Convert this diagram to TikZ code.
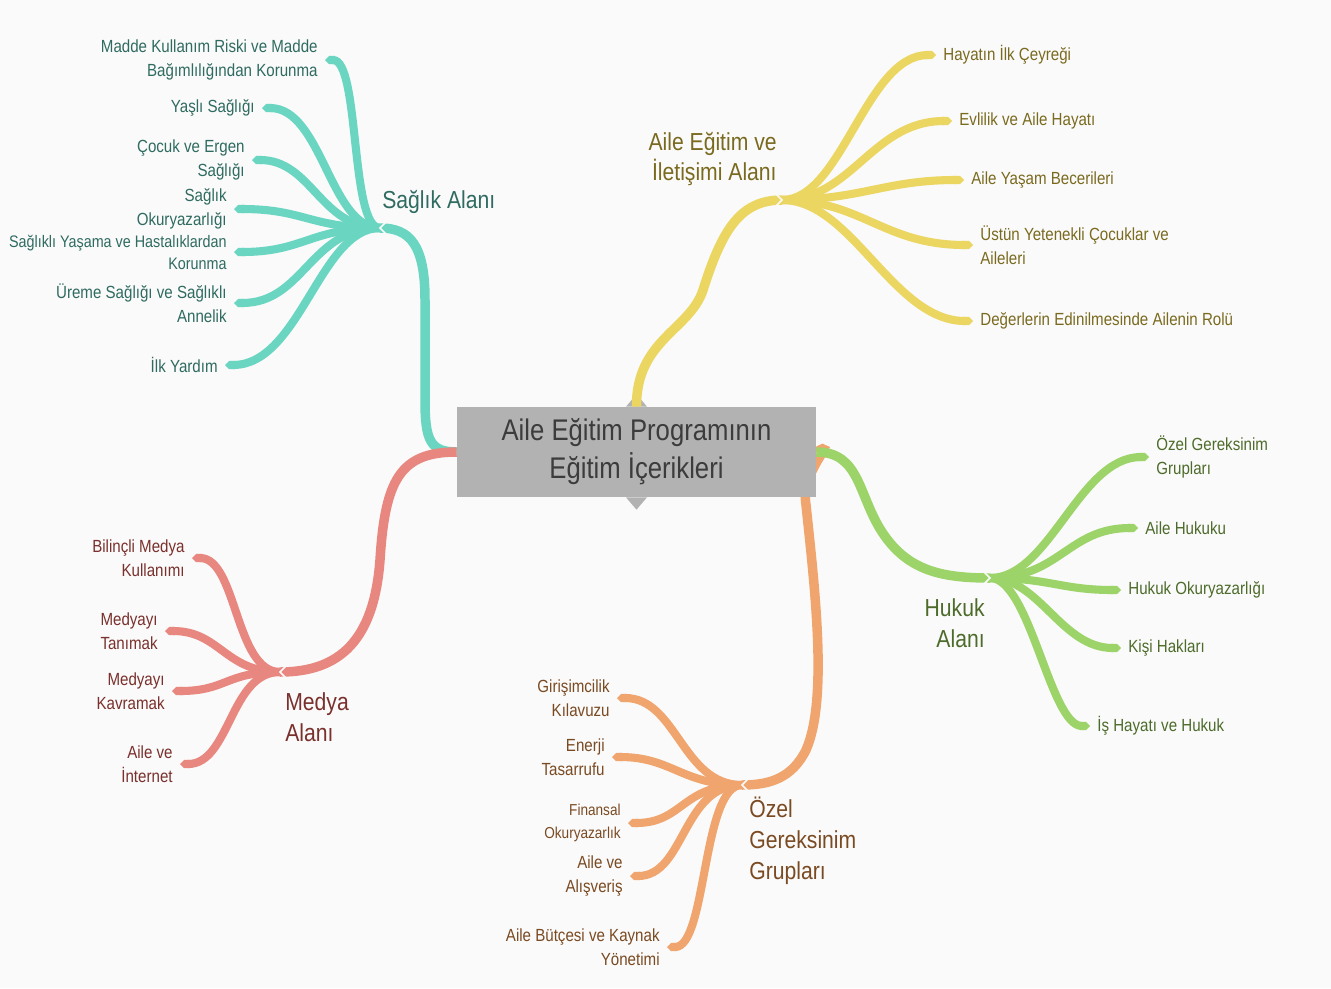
\documentclass[tikz,border=0pt]{standalone}
\usepackage{fontspec}
\setmainfont{Liberation Sans}[FakeStretch=0.86]
\usetikzlibrary{arrows.meta}

\definecolor{pagebg}{HTML}{FAFAFA}
\definecolor{boxgray}{HTML}{B2B2B2}
\definecolor{boxtext}{HTML}{3C3C3C}
\definecolor{tealline}{HTML}{6AD6C2}
\definecolor{tealtext}{HTML}{2F6B60}
\definecolor{yelline}{HTML}{EBD662}
\definecolor{yeltext}{HTML}{7A6A1F}
\definecolor{grnline}{HTML}{9DD46A}
\definecolor{grntext}{HTML}{4D6B2A}
\definecolor{orgline}{HTML}{F0A56E}
\definecolor{orgtext}{HTML}{7A4A22}
\definecolor{redline}{HTML}{E8877F}
\definecolor{redtext}{HTML}{7A302C}

\pgfdeclarelayer{back}
\pgfdeclarelayer{background}
\pgfsetlayers{back,background,main}

\tikzset{
	leafl/.style={anchor=east, align=right, inner xsep=4pt, inner ysep=1pt, font=\fontsize{10}{13.5}\selectfont},
	leafr/.style={leafl, anchor=west, align=left},
	area/.style={inner sep=0pt, font=\fontsize{14}{17.6}\selectfont},
	twig/.style={line width=4.6pt, -{Triangle Cap[]}},
	trunk/.style={line width=5.4pt},
	notch/.style={pagebg, line width=0.9pt}
}

\begin{document}
\begin{tikzpicture}[x=0.02cm, y=-0.02cm]
	
	\begin{pgfonlayer}{back}
		\fill[pagebg] (0,0) rectangle (1331,988);
	\end{pgfonlayer}
	\useasboundingbox (0,0) rectangle (1331,988);
	
	% central topic
	\node[fill=boxgray, minimum width=7.18cm, minimum height=1.8cm, inner sep=0pt, align=center,
		text=boxtext, font=\fontsize{17}{21.5}\selectfont] (center) at (636.5,452)
		{Aile Eğitim Programının\\Eğitim İçerikleri};
	\fill[boxgray] ([xshift=-6pt]center.north) -- ++(6pt,7pt) -- ++(6pt,-7pt) -- cycle;
	\fill[boxgray] ([xshift=-6pt]center.south) -- ++(6pt,-7pt) -- ++(6pt,7pt) -- cycle;
	
	% hubs
	\coordinate (saglik) at (380,228);
	\coordinate (aile) at (782,200);
	\coordinate (hukuk) at (990,578);
	\coordinate (ozel) at (742,785);
	\coordinate (medya) at (280,672);
	
	% main branches
	\draw[trunk, tealline] (center.west) .. controls (430,452) and (425,440) .. (425,400)
		-- (425,300) .. controls (425,245) and (410,228) .. (saglik);
	\draw[trunk, redline] (center.west) .. controls (400,452) and (385,480) .. (380,560)
		.. controls (374,640) and (340,672) .. (medya);
	\draw[trunk, yelline] (center.north) .. controls (636,340) and (690,330) .. (703,290)
		.. controls (722,230) and (740,200) .. (aile);
	\draw[trunk, grnline] (center.east) .. controls (860,452) and (858,495) .. (882,532)
		.. controls (907,570) and (940,578) .. (hukuk);
	\begin{pgfonlayer}{background}
		\draw[trunk, orgline] (center.east) .. controls (840,438) and (800,470) .. (806,505)
			.. controls (815,590) and (828,700) .. (806,750) .. controls (792,778) and (770,785) .. (ozel);
	\end{pgfonlayer}
	
	% branch titles
	\node[area, text=tealtext, anchor=west] (saglikLbl) at (382,202) {Sağlık Alanı};
	\node[area, text=yeltext, anchor=east, align=right] (aileLbl) at (777,159) {Aile Eğitim ve\\İletişimi Alanı};
	\node[area, text=grntext, anchor=east, align=right] (hukukLbl) at (985,623) {Hukuk\\Alanı};
	\node[area, text=orgtext, anchor=west, align=left] (ozelLbl) at (749,841) {Özel\\Gereksinim\\Grupları};
	\node[area, text=redtext, anchor=west, align=left] (medyaLbl) at (285,717) {Medya\\Alanı};
	
	% Sağlık Alanı
	\node[leafl, text=tealtext] (madde) at (325,60) {Madde Kullanım Riski ve Madde\\Bağımlılığından Korunma};
	\node[leafl, text=tealtext] (yasli) at (262,108) {Yaşlı Sağlığı};
	\node[leafl, text=tealtext] (cocuk) at (252,160) {Çocuk ve Ergen\\Sağlığı};
	\node[leafl, text=tealtext] (sokur) at (234,209) {Sağlık\\Okuryazarlığı};
	\node[leafl, text=tealtext, font=\fontsize{9.5}{12.5}\selectfont] (yasama) at (234,252) {Sağlıklı Yaşama ve Hastalıklardan\\Korunma};
	\node[leafl, text=tealtext] (ureme) at (234,303) {Üreme Sağlığı ve Sağlıklı\\Annelik};
	\node[leafl, text=tealtext] (ilk) at (225,365) {İlk Yardım};
	\draw[twig, tealline] (saglik) .. controls +(-30,0) and +(35,0) .. (madde.east);
	\draw[twig, tealline] (saglik) .. controls +(-50,0) and +(60,0) .. (yasli.east);
	\draw[twig, tealline] (saglik) .. controls +(-60,0) and +(60,0) .. (cocuk.east);
	\draw[twig, tealline] (saglik) .. controls +(-70,0) and +(70,0) .. (sokur.east);
	\draw[twig, tealline] (saglik) .. controls +(-70,0) and +(70,0) .. (yasama.east);
	\draw[twig, tealline] (saglik) .. controls +(-70,0) and +(70,0) .. (ureme.east);
	\draw[twig, tealline] (saglik) .. controls +(-60,0) and +(75,0) .. (ilk.east);
	\draw[notch] ([shift={(6,-6)}]saglik) -- ++(-6,6) -- ++(6,6);
	
	% Aile Eğitim ve İletişimi Alanı
	\node[leafr, text=yeltext] (hayat) at (936,55) {Hayatın İlk Çeyreği};
	\node[leafr, text=yeltext] (evlilik) at (952,121) {Evlilik ve Aile Hayatı};
	\node[leafr, text=yeltext] (yasam) at (964,180) {Aile Yaşam Becerileri};
	\node[leafr, text=yeltext] (ustun) at (973,245) {Üstün Yetenekli Çocuklar ve\\Aileleri};
	\node[leafr, text=yeltext] (deger) at (973,321) {Değerlerin Edinilmesinde Ailenin Rolü};
	\draw[twig, yelline] (aile) .. controls +(60,0) and +(-70,0) .. (hayat.west);
	\draw[twig, yelline] (aile) .. controls +(70,0) and +(-80,0) .. (evlilik.west);
	\draw[twig, yelline] (aile) .. controls +(80,0) and +(-80,0) .. (yasam.west);
	\draw[twig, yelline] (aile) .. controls +(80,0) and +(-90,0) .. (ustun.west);
	\draw[twig, yelline] (aile) .. controls +(70,0) and +(-80,0) .. (deger.west);
	\draw[notch] ([shift={(-6,-6)}]aile) -- ++(6,6) -- ++(-6,6);
	
	% Hukuk Alanı
	\node[leafr, text=grntext] (hozel) at (1149,457) {Özel Gereksinim\\Grupları};
	\node[leafr, text=grntext] (haile) at (1138,528) {Aile Hukuku};
	\node[leafr, text=grntext] (hokur) at (1121,590) {Hukuk Okuryazarlığı};
	\node[leafr, text=grntext] (kisi) at (1121,648) {Kişi Hakları};
	\node[leafr, text=grntext] (isha) at (1090,726) {İş Hayatı ve Hukuk};
	\draw[twig, grnline] (hukuk) .. controls +(60,0) and +(-70,0) .. (hozel.west);
	\draw[twig, grnline] (hukuk) .. controls +(70,0) and +(-70,0) .. (haile.west);
	\draw[twig, grnline] (hukuk) .. controls +(60,0) and +(-60,0) .. (hokur.west);
	\draw[twig, grnline] (hukuk) .. controls +(50,0) and +(-60,0) .. (kisi.west);
	\draw[twig, grnline] (hukuk) .. controls +(40,0) and +(-40,0) .. (isha.west);
	\draw[notch] ([shift={(-6,-6)}]hukuk) -- ++(6,6) -- ++(-6,6);
	
	% Özel Gereksinim Grupları
	\node[leafl, text=orgtext] (girisim) at (617,698) {Girişimcilik\\Kılavuzu};
	\node[leafl, text=orgtext] (enerji) at (612,757) {Enerji\\Tasarrufu};
	\node[leafl, text=orgtext, font=\fontsize{9}{13}\selectfont] (finans) at (628,823) {Finansal\\Okuryazarlık};
	\node[leafl, text=orgtext] (alis) at (630,876) {Aile ve\\Alışveriş};
	\node[leafl, text=orgtext] (butce) at (667,947) {Aile Bütçesi ve Kaynak\\Yönetimi};
	\draw[twig, orgline] (ozel) .. controls +(-60,0) and +(60,0) .. (girisim.east);
	\draw[twig, orgline] (ozel) .. controls +(-60,0) and +(60,0) .. (enerji.east);
	\draw[twig, orgline] (ozel) .. controls +(-60,0) and +(55,0) .. (finans.east);
	\draw[twig, orgline] (ozel) .. controls +(-60,0) and +(55,0) .. (alis.east);
	\draw[twig, orgline] (ozel) .. controls +(-40,0) and +(40,0) .. (butce.east);
	\draw[notch] ([shift={(6,-6)}]ozel) -- ++(-6,6) -- ++(6,6);
	
	% Medya Alanı
	\node[leafl, text=redtext] (bilinc) at (192,558) {Bilinçli Medya\\Kullanımı};
	\node[leafl, text=redtext] (tanim) at (165,631) {Medyayı\\Tanımak};
	\node[leafl, text=redtext] (kavra) at (172,691) {Medyayı\\Kavramak};
	\node[leafl, text=redtext] (inter) at (180,764) {Aile ve\\İnternet};
	\draw[twig, redline] (medya) .. controls +(-45,0) and +(45,0) .. (bilinc.east);
	\draw[twig, redline] (medya) .. controls +(-55,0) and +(55,0) .. (tanim.east);
	\draw[twig, redline] (medya) .. controls +(-55,0) and +(55,0) .. (kavra.east);
	\draw[twig, redline] (medya) .. controls +(-50,0) and +(50,0) .. (inter.east);
	\draw[notch] ([shift={(6,-6)}]medya) -- ++(-6,6) -- ++(6,6);
	
\end{tikzpicture}
\end{document}
